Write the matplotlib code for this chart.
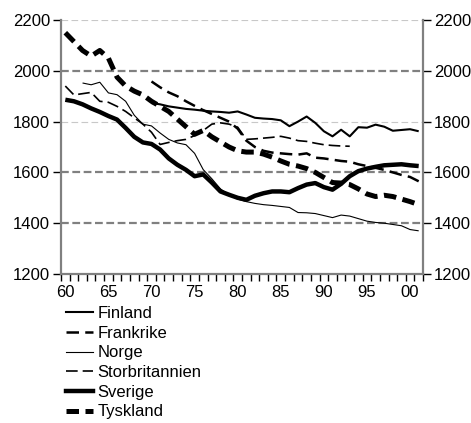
import numpy as np
import matplotlib
matplotlib.use("Agg")
import matplotlib.pyplot as plt
from matplotlib.lines import Line2D

plt.rcParams['font.family'] = ['Liberation Sans', 'DejaVu Sans']

nan = np.nan
years = list(range(1960, 2002))
tick_years = [1960, 1965, 1970, 1975, 1980, 1985, 1990, 1995, 2000]
tick_labels = ['60', '65', '70', '75', '80', '85', '90', '95', '00']
y_ticks = [1200, 1400, 1600, 1800, 2000, 2200]

finland = [nan]*10 + [1873, 1868, 1860, 1855, 1850, 1847, 1843, 1840, 1838, 1835,
                      1840, 1828, 1815, 1812, 1810, 1805, 1782, 1800, 1820, 1795,
                      1762, 1742, 1768, 1742, 1778, 1776, 1788, 1780, 1764, 1767,
                      1770, 1762]
frankrike = [nan]*10 + [1958, 1935, 1915, 1900, 1880, 1862, 1845, 1830, 1815, 1800,
                        1772, 1725, 1700, 1685, 1678, 1675, 1672, 1670, 1675, 1658,
                        1655, 1650, 1645, 1642, 1632, 1625, 1618, 1610, 1600, 1590,
                        1582, 1565]
norge = [nan, nan, 1952, 1945, 1955, 1913, 1906, 1880, 1825, 1790,
         1783, 1755, 1730, 1716, 1709, 1675, 1611, 1575, 1535, 1512,
         1495, 1485, 1478, 1473, 1470, 1466, 1462, 1442, 1441, 1438,
         1430, 1422, 1432, 1428, 1418, 1408, 1403, 1400, 1395, 1390,
         1375, 1370]
storbritannien = [1940, 1905, 1910, 1915, 1880, 1876, 1860, 1840, 1815, 1790,
                  1758, 1710, 1718, 1725, 1730, 1745, 1765, 1790, 1795, 1790,
                  1778, 1730, 1732, 1735, 1738, 1742, 1735, 1725, 1722, 1715,
                  1709, 1706, 1704, 1703] + [nan]*8
sverige = [1886, 1880, 1868, 1852, 1838, 1822, 1808, 1775, 1740, 1718,
           1712, 1690, 1655, 1630, 1610, 1585, 1592, 1560, 1525, 1512,
           1500, 1492, 1508, 1518, 1525, 1525, 1522, 1538, 1552, 1558,
           1542, 1532, 1555, 1585, 1605, 1615, 1622, 1628, 1630, 1632,
           1628, 1625]
tyskland = [2150, 2115, 2080, 2058, 2080, 2050, 1975, 1940, 1920, 1905,
            1880, 1860, 1840, 1810, 1780, 1750, 1765, 1740, 1720, 1700,
            1685, 1680, 1680, 1672, 1660, 1645, 1632, 1625, 1615, 1600,
            1580, 1560, 1558, 1552, 1535, 1515, 1505, 1510, 1505, 1495,
            1485, 1473]

series = [
    ('Finland', finland, dict(color='black', lw=1.5, ls='-')),
    ('Frankrike', frankrike, dict(color='black', lw=1.8, ls=(0, (5, 2.5)))),
    ('Norge', norge, dict(color='black', lw=0.8, ls='-')),
    ('Storbritannien', storbritannien, dict(color='black', lw=1.2, ls=(0, (7, 3)))),
    ('Sverige', sverige, dict(color='black', lw=3.2, ls='-')),
    ('Tyskland', tyskland, dict(color='black', lw=3.6, ls=(0, (2.5, 1.3)))),
]

fig = plt.figure(figsize=(4.71, 4.23), dpi=100)
ax = fig.add_axes([61/471, 1-274/423, (423-61)/471, (274-20)/423])

x = np.array(years) - 1900
for name, vals, st in series:
    ax.plot(x, np.array(vals, dtype=float), label=name, solid_capstyle='butt',
            dash_capstyle='butt', zorder=3, **st)

# gridlines
for yv in [1400, 1600, 2000]:
    ax.axhline(yv, color='#808080', lw=1.6, ls=(0, (3.5, 1.6)), zorder=1)
for yv in [1800, 2200]:
    ax.axhline(yv, color='#c8c8c8', lw=0.8, ls=(0, (6, 3)), zorder=1)

ax.set_xlim(59.5, 101.5)
ax.set_ylim(1200, 2200)
ax.set_yticks(y_ticks)
ax.set_xticks(np.array(tick_years) - 1900)
ax.set_xticklabels(tick_labels)
ax.set_xticks(np.arange(59.5, 101.6, 1.0), minor=True)
ax.tick_params(axis='x', which='major', length=0, pad=8, labelsize=12)
ax.tick_params(axis='x', which='minor', length=5, width=1, color='black', direction='out')
ax.tick_params(axis='y', which='major', length=6, width=1, color='black', direction='out',
               left=True, right=True, labelleft=True, labelright=True, labelsize=12, pad=2)

for s in ['top']:
    ax.spines[s].set_visible(False)
for s in ['left', 'right', 'bottom']:
    ax.spines[s].set_color('#808080')
    ax.spines[s].set_linewidth(1.6)

handles = [Line2D([0], [0], **st) for _, _, st in series]
labels = [n for n, _, _ in series]
fig.legend(handles, labels, loc='upper left', bbox_to_anchor=(66/471, 1-306/423),
           frameon=False, fontsize=12, handlelength=1.6, handletextpad=0.3,
           labelspacing=0.28, borderpad=0, borderaxespad=0)

fig.savefig('out.png', dpi=100)
